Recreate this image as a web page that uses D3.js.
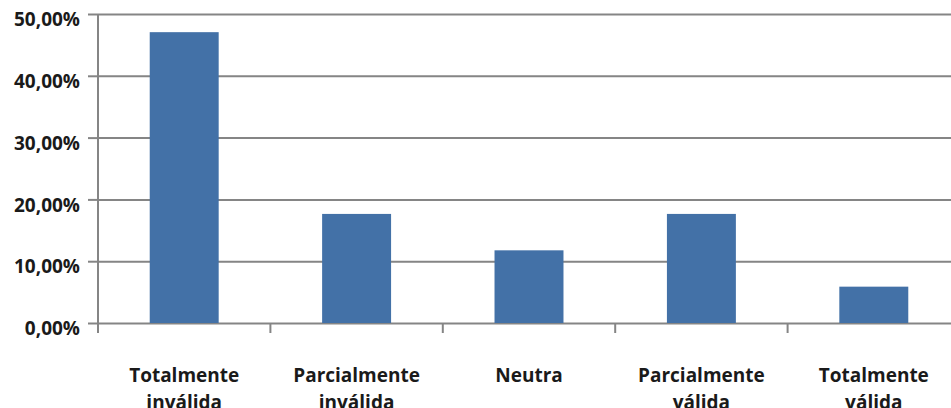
<!DOCTYPE html>
<html>
<head>
<meta charset="utf-8">
<script src="https://cdn.jsdelivr.net/npm/d3@7.9.0/dist/d3.min.js"></script>
<style>
  body { margin: 0; background: #fff; overflow: hidden; }
  svg { display: block; }
  text { font-family: "Open Sans", sans-serif; font-weight: bold; fill: #1a1a1a; }
</style>
</head>
<body>
<div id="chart"></div>
<script>
// categories and values (share of answers)
const categories = [
  ['Totalmente', 'inválida'],
  ['Parcialmente', 'inválida'],
  ['Neutra'],
  ['Parcialmente', 'válida'],
  ['Totalmente', 'válida'],
];
const values = [0.4706, 0.1765, 0.1176, 0.1765, 0.0588];
const yTicks = [0, 0.1, 0.2, 0.3, 0.4, 0.5];

const width = 951;
const height = 408;
const margin = { top: 14, right: -9, bottom: 85, left: 98 };

const svg = d3
  .select('#chart')
  .append('svg')
  .attr('width', width)
  .attr('height', height);

const x = d3
  .scaleBand()
  .domain(d3.range(values.length))
  .range([margin.left, width - margin.right])
  .paddingInner(0.6)
  .paddingOuter(0.3);

const y = d3
  .scaleLinear()
  .domain([0, 0.5])
  .range([height - margin.bottom, margin.top]);

const fmt = (d) => (d * 100).toFixed(2).replace('.', ',') + '%';

// gridlines + y ticks
const yAxis = svg
  .append('g')
  .attr('transform', `translate(${margin.left},0)`)
  .call(
    d3.axisLeft(y)
      .tickValues(yTicks)
      .tickSize(10)
      .tickFormat(fmt),
  );
yAxis.select('.domain').remove();
yAxis.selectAll('.tick line').attr('stroke', '#858585').attr('stroke-width', 2);
yAxis
  .selectAll('.tick')
  .append('line')
  .attr('x2', width)
  .attr('stroke', '#858585')
  .attr('stroke-width', 2);
yAxis
  .selectAll('.tick text')
  .attr('x', -18)
  .attr('dy', '0.62em')
  .style('font-size', '19px')
  .style('fill', '#1a1a1a');

// bars
svg
  .append('g')
  .selectAll('rect')
  .data(values)
  .join('rect')
  .attr('x', (d, i) => x(i))
  .attr('y', (d) => y(d))
  .attr('width', x.bandwidth())
  .attr('height', (d) => y(0) - y(d))
  .attr('fill', '#4371a7');

// vertical axis line
svg
  .append('line')
  .attr('x1', margin.left)
  .attr('x2', margin.left)
  .attr('y1', y(0.5))
  .attr('y2', y(0) + 10)
  .attr('stroke', '#858585')
  .attr('stroke-width', 2);

// category boundary ticks on x axis
const step = x.step();
const bounds = d3.range(1, values.length).map((i) => x(i) - x.paddingInner() * step / 2);
svg
  .append('g')
  .selectAll('line')
  .data(bounds)
  .join('line')
  .attr('x1', (d) => d)
  .attr('x2', (d) => d)
  .attr('y1', y(0))
  .attr('y2', y(0) + 10)
  .attr('stroke', '#858585')
  .attr('stroke-width', 2);

// x labels (second line runs off the bottom edge, as in the original)
const labels = svg
  .append('g')
  .selectAll('text')
  .data(categories)
  .join('text')
  .attr('text-anchor', 'middle')
  .attr('x', (d, i) => x(i) + x.bandwidth() / 2)
  .attr('y', 382)
  .style('font-size', '19px');
labels
  .selectAll('tspan')
  .data((d) => d)
  .join('tspan')
  .attr('x', function () { return this.parentNode.getAttribute('x'); })
  .attr('dy', (d, i) => (i === 0 ? 0 : 27))
  .text((d) => d);
</script>
</body>
</html>
